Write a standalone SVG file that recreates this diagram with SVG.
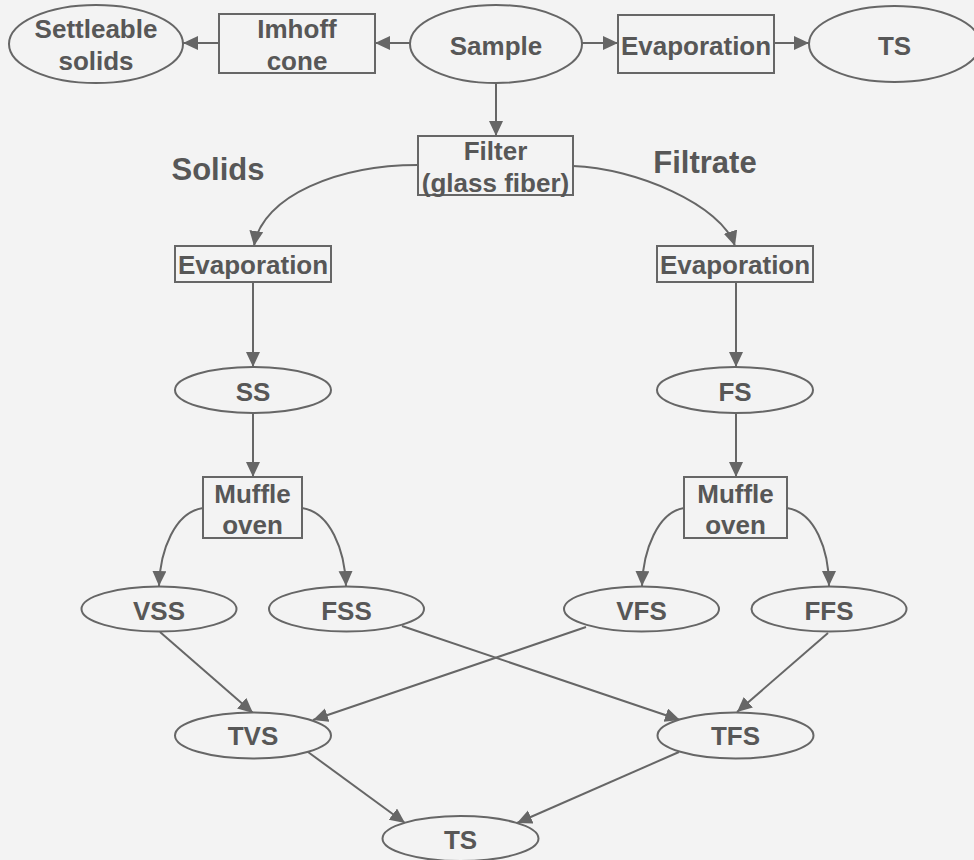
<svg xmlns="http://www.w3.org/2000/svg" width="974" height="860" viewBox="0 0 974 860">
<defs>
<marker id="arr" markerUnits="userSpaceOnUse" markerWidth="16" markerHeight="16" refX="15" refY="7" orient="auto">
<path d="M0,0 L15,7 L0,14 z" fill="#666"/>
</marker>
<style>
.n{fill:#f3f3f3;stroke:#666;stroke-width:2}
.t{font-family:"Liberation Sans",Arial,sans-serif;font-weight:bold;font-size:26px;fill:#575757;text-anchor:middle}
.lbl{font-family:"Liberation Sans",Arial,sans-serif;font-weight:bold;font-size:31px;fill:#575757;text-anchor:middle}
.c{fill:none;stroke:#666;stroke-width:2;marker-end:url(#arr)}
</style>
</defs>
<rect width="974" height="860" fill="#f3f3f3"/>
<g id="connectors">
<path class="c" d="M410,43 L375,43"/>
<path class="c" d="M219,43 L183,43"/>
<path class="c" d="M582,43 L618,43"/>
<path class="c" d="M774,43 L809,43"/>
<path class="c" d="M496,83 L496,136"/>
<path class="c" d="M418,165 C340,165 262,195 254,246"/>
<path class="c" d="M573,166 C635,168 722,205 735,246"/>
<path class="c" d="M253,282 L253,367"/>
<path class="c" d="M736,282 L736,367"/>
<path class="c" d="M253,413 L253,477"/>
<path class="c" d="M736,413 L736,477"/>
<path class="c" d="M203,508 C175,512 160,550 159,586"/>
<path class="c" d="M302,508 C330,512 345,550 346,586"/>
<path class="c" d="M684,508 C658,512 643,550 642,586"/>
<path class="c" d="M787,508 C815,512 829,550 829,586"/>
<path class="c" d="M160,632 L253,713"/>
<path class="c" d="M402,626 L680,720"/>
<path class="c" d="M586,627 L313,720"/>
<path class="c" d="M828,633 L737,712"/>
<path class="c" d="M308,752 L405,823"/>
<path class="c" d="M679,752 L517,823"/>
</g>
<g id="settleable"><ellipse class="n" cx="96" cy="44" rx="87" ry="39"/><text class="t" x="96" y="38">Settleable</text><text class="t" x="96" y="70">solids</text></g>
<g id="imhoff"><rect class="n" x="219" y="14" width="156" height="59"/><text class="t" x="297" y="38">Imhoff</text><text class="t" x="297" y="70">cone</text></g>
<g id="sample"><ellipse class="n" cx="496" cy="44" rx="86" ry="39"/><text class="t" x="496" y="55">Sample</text></g>
<g id="evap-top"><rect class="n" x="618" y="15" width="156" height="58"/><text class="t" x="696" y="55">Evaporation</text></g>
<g id="ts-top"><ellipse class="n" cx="894.5" cy="44" rx="85.5" ry="38"/><text class="t" x="894.5" y="55">TS</text></g>
<g id="filter"><rect class="n" x="418" y="136" width="155" height="59"/><text class="t" x="495.5" y="160">Filter</text><text class="t" x="495.5" y="192">(glass fiber)</text></g>
<g id="label-solids"><text class="lbl" x="218" y="180">Solids</text></g>
<g id="label-filtrate"><text class="lbl" x="705" y="173">Filtrate</text></g>
<g id="evap-left"><rect class="n" x="175" y="246" width="156" height="36"/><text class="t" x="253" y="274">Evaporation</text></g>
<g id="evap-right"><rect class="n" x="657" y="246" width="156" height="36"/><text class="t" x="735" y="274">Evaporation</text></g>
<g id="ss"><ellipse class="n" cx="253" cy="390" rx="78" ry="23"/><text class="t" x="253" y="401">SS</text></g>
<g id="fs"><ellipse class="n" cx="735" cy="390" rx="78" ry="23"/><text class="t" x="735" y="401">FS</text></g>
<g id="muffle-left"><rect class="n" x="203" y="477" width="99" height="61"/><text class="t" x="252.5" y="503">Muffle</text><text class="t" x="252.5" y="534">oven</text></g>
<g id="muffle-right"><rect class="n" x="684" y="477" width="103" height="61"/><text class="t" x="735.5" y="503">Muffle</text><text class="t" x="735.5" y="534">oven</text></g>
<g id="vss"><ellipse class="n" cx="159" cy="609" rx="77.5" ry="22.5"/><text class="t" x="159" y="620">VSS</text></g>
<g id="fss"><ellipse class="n" cx="346.5" cy="609" rx="77.5" ry="22.5"/><text class="t" x="346.5" y="620">FSS</text></g>
<g id="vfs"><ellipse class="n" cx="641.5" cy="609" rx="77.5" ry="22.5"/><text class="t" x="641.5" y="620">VFS</text></g>
<g id="ffs"><ellipse class="n" cx="829" cy="609" rx="77.5" ry="22.5"/><text class="t" x="829" y="620">FFS</text></g>
<g id="tvs"><ellipse class="n" cx="253" cy="735.5" rx="78" ry="23"/><text class="t" x="253" y="745">TVS</text></g>
<g id="tfs"><ellipse class="n" cx="735.5" cy="735.5" rx="78" ry="23"/><text class="t" x="735.5" y="745">TFS</text></g>
<g id="ts-bottom"><ellipse class="n" cx="460.5" cy="838.5" rx="78" ry="22.5"/><text class="t" x="460.5" y="849">TS</text></g>
</svg>
